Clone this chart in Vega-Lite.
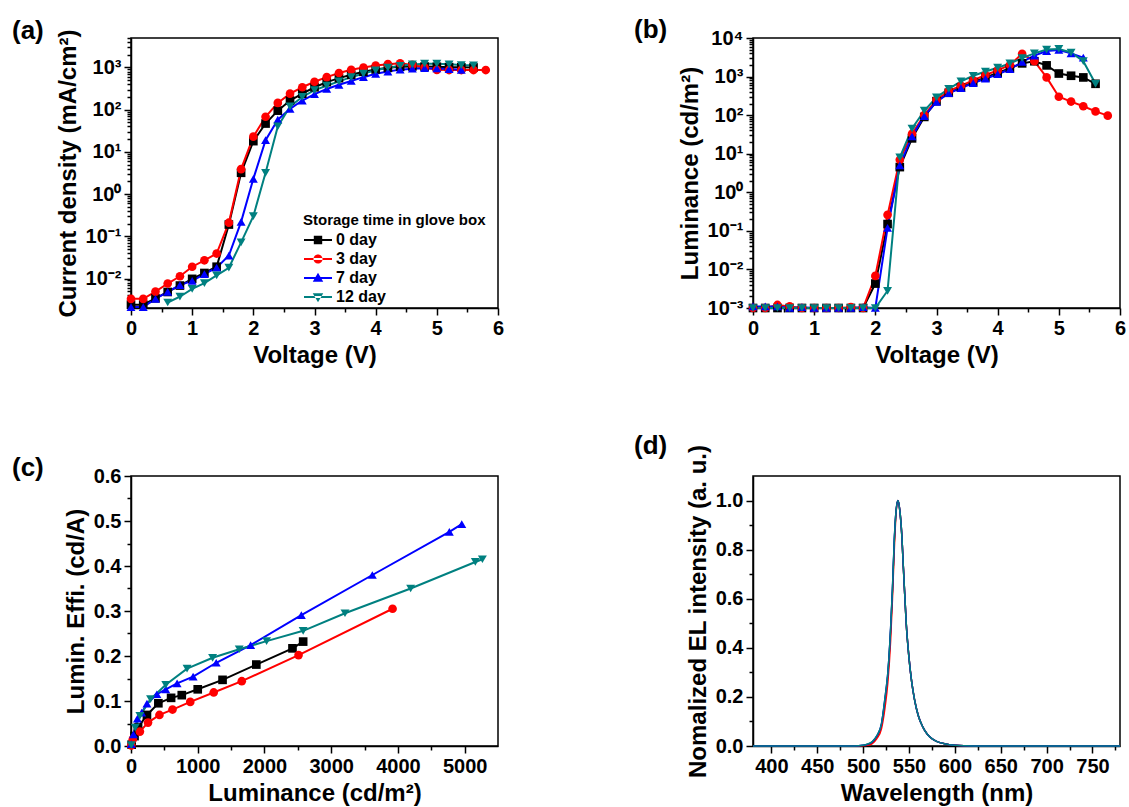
{
  "$schema": "https://vega.github.io/schema/vega-lite/v6.json",
  "padding": {"left": 11, "top": 16, "right": 0, "bottom": 0},
  "bounds": "flush",
  "columns": 2,
  "spacing": {"row": 168, "column": 255},
  "config": {
    "font": "Liberation Sans",
    "background": "white",
    "view": {"stroke": "black", "strokeWidth": 1.5},
    "axis": {
      "grid": false, "domainColor": "black", "domainWidth": 1.5, "tickColor": "black", "tickWidth": 1.5, "tickSize": 7,
      "labelFont": "Liberation Sans", "labelFontWeight": "bold", "labelFontSize": 20, "labelColor": "black", "labelPadding": 3,
      "labelFlush": false, "labelOverlap": false, "labelBound": false,
      "titleFont": "Liberation Sans", "titleFontWeight": "bold", "titleFontSize": 24, "titleColor": "black", "titlePadding": 5
    },
    "title": {"font": "Liberation Sans", "fontSize": 26, "fontWeight": "bold", "color": "black", "anchor": "start", "frame": "group", "orient": "top", "baseline": "bottom", "offset": 0, "dx": -119, "dy": 19},
    "legend": {"titleFont": "Liberation Sans", "titleFontSize": 15, "titleFontWeight": "bold", "titleColor": "black", "titleLimit": 1000, "labelLimit": 1000, "labelFont": "Liberation Sans", "labelFontSize": 16, "labelFontWeight": "bold", "labelColor": "black", "symbolSize": 196, "rowPadding": 3, "titlePadding": 4, "labelOffset": 17, "symbolStrokeWidth": 0}
  },
  "resolve": {"scale": {"color": "independent"}, "legend": {"color": "independent"}},
  "datasets": {
    "jv": [
      {"s": "0 day", "V": 0, "J": 0.0024}, {"s": "0 day", "V": 0.2, "J": 0.0024}, {"s": "0 day", "V": 0.4, "J": 0.0034}, {"s": "0 day", "V": 0.6, "J": 0.0048}, {"s": "0 day", "V": 0.8, "J": 0.0068}, {"s": "0 day", "V": 1.0, "J": 0.0098}, {"s": "0 day", "V": 1.2, "J": 0.0135}, {"s": "0 day", "V": 1.4, "J": 0.019}, {"s": "0 day", "V": 1.6, "J": 0.19}, {"s": "0 day", "V": 1.8, "J": 3.2}, {"s": "0 day", "V": 2.0, "J": 18}, {"s": "0 day", "V": 2.2, "J": 47}, {"s": "0 day", "V": 2.4, "J": 95}, {"s": "0 day", "V": 2.6, "J": 165}, {"s": "0 day", "V": 2.8, "J": 240}, {"s": "0 day", "V": 3.0, "J": 340}, {"s": "0 day", "V": 3.2, "J": 450}, {"s": "0 day", "V": 3.4, "J": 560}, {"s": "0 day", "V": 3.6, "J": 670}, {"s": "0 day", "V": 3.8, "J": 790}, {"s": "0 day", "V": 4.0, "J": 900}, {"s": "0 day", "V": 4.2, "J": 980}, {"s": "0 day", "V": 4.4, "J": 1040}, {"s": "0 day", "V": 4.6, "J": 1060}, {"s": "0 day", "V": 4.8, "J": 1050}, {"s": "0 day", "V": 5.0, "J": 1040}, {"s": "0 day", "V": 5.2, "J": 1020}, {"s": "0 day", "V": 5.4, "J": 1010}, {"s": "0 day", "V": 5.6, "J": 1000},
      {"s": "3 day", "V": 0, "J": 0.0033}, {"s": "3 day", "V": 0.2, "J": 0.0033}, {"s": "3 day", "V": 0.4, "J": 0.0049}, {"s": "3 day", "V": 0.6, "J": 0.0076}, {"s": "3 day", "V": 0.8, "J": 0.0113}, {"s": "3 day", "V": 1.0, "J": 0.019}, {"s": "3 day", "V": 1.2, "J": 0.027}, {"s": "3 day", "V": 1.4, "J": 0.039}, {"s": "3 day", "V": 1.6, "J": 0.21}, {"s": "3 day", "V": 1.8, "J": 3.9}, {"s": "3 day", "V": 2.0, "J": 23}, {"s": "3 day", "V": 2.2, "J": 68}, {"s": "3 day", "V": 2.4, "J": 145}, {"s": "3 day", "V": 2.6, "J": 240}, {"s": "3 day", "V": 2.8, "J": 340}, {"s": "3 day", "V": 3.0, "J": 460}, {"s": "3 day", "V": 3.2, "J": 590}, {"s": "3 day", "V": 3.4, "J": 740}, {"s": "3 day", "V": 3.6, "J": 880}, {"s": "3 day", "V": 3.8, "J": 1000}, {"s": "3 day", "V": 4.0, "J": 1110}, {"s": "3 day", "V": 4.2, "J": 1200}, {"s": "3 day", "V": 4.4, "J": 1260}, {"s": "3 day", "V": 4.6, "J": 1150}, {"s": "3 day", "V": 4.8, "J": 1000}, {"s": "3 day", "V": 5.0, "J": 880}, {"s": "3 day", "V": 5.2, "J": 870}, {"s": "3 day", "V": 5.4, "J": 870}, {"s": "3 day", "V": 5.6, "J": 870}, {"s": "3 day", "V": 5.8, "J": 870},
      {"s": "7 day", "V": 0, "J": 0.0021}, {"s": "7 day", "V": 0.2, "J": 0.0021}, {"s": "7 day", "V": 0.4, "J": 0.0033}, {"s": "7 day", "V": 0.6, "J": 0.0048}, {"s": "7 day", "V": 0.8, "J": 0.007}, {"s": "7 day", "V": 1.0, "J": 0.0088}, {"s": "7 day", "V": 1.2, "J": 0.0127}, {"s": "7 day", "V": 1.4, "J": 0.018}, {"s": "7 day", "V": 1.6, "J": 0.035}, {"s": "7 day", "V": 1.8, "J": 0.22}, {"s": "7 day", "V": 2.0, "J": 2.3}, {"s": "7 day", "V": 2.2, "J": 19}, {"s": "7 day", "V": 2.4, "J": 58}, {"s": "7 day", "V": 2.6, "J": 105}, {"s": "7 day", "V": 2.8, "J": 165}, {"s": "7 day", "V": 3.0, "J": 235}, {"s": "7 day", "V": 3.2, "J": 310}, {"s": "7 day", "V": 3.4, "J": 390}, {"s": "7 day", "V": 3.6, "J": 480}, {"s": "7 day", "V": 3.8, "J": 590}, {"s": "7 day", "V": 4.0, "J": 710}, {"s": "7 day", "V": 4.2, "J": 800}, {"s": "7 day", "V": 4.4, "J": 890}, {"s": "7 day", "V": 4.6, "J": 940}, {"s": "7 day", "V": 4.8, "J": 960}, {"s": "7 day", "V": 5.0, "J": 950}, {"s": "7 day", "V": 5.2, "J": 920}, {"s": "7 day", "V": 5.4, "J": 880},
      {"s": "12 day", "V": 0.6, "J": 0.0027}, {"s": "12 day", "V": 0.8, "J": 0.0037}, {"s": "12 day", "V": 1.0, "J": 0.0057}, {"s": "12 day", "V": 1.2, "J": 0.0078}, {"s": "12 day", "V": 1.4, "J": 0.0118}, {"s": "12 day", "V": 1.6, "J": 0.018}, {"s": "12 day", "V": 1.8, "J": 0.072}, {"s": "12 day", "V": 2.0, "J": 0.3}, {"s": "12 day", "V": 2.2, "J": 3.2}, {"s": "12 day", "V": 2.4, "J": 40}, {"s": "12 day", "V": 2.6, "J": 120}, {"s": "12 day", "V": 2.8, "J": 200}, {"s": "12 day", "V": 3.0, "J": 290}, {"s": "12 day", "V": 3.2, "J": 370}, {"s": "12 day", "V": 3.4, "J": 470}, {"s": "12 day", "V": 3.6, "J": 590}, {"s": "12 day", "V": 3.8, "J": 720}, {"s": "12 day", "V": 4.0, "J": 860}, {"s": "12 day", "V": 4.2, "J": 990}, {"s": "12 day", "V": 4.4, "J": 1100}, {"s": "12 day", "V": 4.6, "J": 1180}, {"s": "12 day", "V": 4.8, "J": 1230}, {"s": "12 day", "V": 5.0, "J": 1230}, {"s": "12 day", "V": 5.2, "J": 1190}, {"s": "12 day", "V": 5.4, "J": 1140}, {"s": "12 day", "V": 5.6, "J": 1130}
    ],
    "lv": [
      {"s": "0 day", "V": 0, "L": 0.001}, {"s": "0 day", "V": 0.2, "L": 0.001}, {"s": "0 day", "V": 0.4, "L": 0.001}, {"s": "0 day", "V": 0.6, "L": 0.001}, {"s": "0 day", "V": 0.8, "L": 0.001}, {"s": "0 day", "V": 1.0, "L": 0.001}, {"s": "0 day", "V": 1.2, "L": 0.001}, {"s": "0 day", "V": 1.4, "L": 0.001}, {"s": "0 day", "V": 1.6, "L": 0.001}, {"s": "0 day", "V": 1.8, "L": 0.001}, {"s": "0 day", "V": 2.0, "L": 0.0043}, {"s": "0 day", "V": 2.2, "L": 0.15}, {"s": "0 day", "V": 2.4, "L": 4.5}, {"s": "0 day", "V": 2.6, "L": 25}, {"s": "0 day", "V": 2.8, "L": 90}, {"s": "0 day", "V": 3.0, "L": 230}, {"s": "0 day", "V": 3.2, "L": 380}, {"s": "0 day", "V": 3.4, "L": 520}, {"s": "0 day", "V": 3.6, "L": 720}, {"s": "0 day", "V": 3.8, "L": 950}, {"s": "0 day", "V": 4.0, "L": 1250}, {"s": "0 day", "V": 4.2, "L": 1650}, {"s": "0 day", "V": 4.4, "L": 2200}, {"s": "0 day", "V": 4.6, "L": 2500}, {"s": "0 day", "V": 4.8, "L": 1950}, {"s": "0 day", "V": 5.0, "L": 1200}, {"s": "0 day", "V": 5.2, "L": 1050}, {"s": "0 day", "V": 5.4, "L": 950}, {"s": "0 day", "V": 5.6, "L": 650},
      {"s": "3 day", "V": 0, "L": 0.001}, {"s": "3 day", "V": 0.2, "L": 0.001}, {"s": "3 day", "V": 0.4, "L": 0.0012}, {"s": "3 day", "V": 0.6, "L": 0.0011}, {"s": "3 day", "V": 0.8, "L": 0.001}, {"s": "3 day", "V": 1.0, "L": 0.001}, {"s": "3 day", "V": 1.2, "L": 0.001}, {"s": "3 day", "V": 1.4, "L": 0.001}, {"s": "3 day", "V": 1.6, "L": 0.00105}, {"s": "3 day", "V": 1.8, "L": 0.001}, {"s": "3 day", "V": 2.0, "L": 0.0068}, {"s": "3 day", "V": 2.2, "L": 0.26}, {"s": "3 day", "V": 2.4, "L": 7}, {"s": "3 day", "V": 2.6, "L": 33}, {"s": "3 day", "V": 2.8, "L": 100}, {"s": "3 day", "V": 3.0, "L": 250}, {"s": "3 day", "V": 3.2, "L": 420}, {"s": "3 day", "V": 3.4, "L": 580}, {"s": "3 day", "V": 3.6, "L": 800}, {"s": "3 day", "V": 3.8, "L": 1100}, {"s": "3 day", "V": 4.0, "L": 1450}, {"s": "3 day", "V": 4.2, "L": 2000}, {"s": "3 day", "V": 4.4, "L": 3900}, {"s": "3 day", "V": 4.6, "L": 2500}, {"s": "3 day", "V": 4.8, "L": 950}, {"s": "3 day", "V": 5.0, "L": 300}, {"s": "3 day", "V": 5.2, "L": 225}, {"s": "3 day", "V": 5.4, "L": 170}, {"s": "3 day", "V": 5.6, "L": 125}, {"s": "3 day", "V": 5.8, "L": 97},
      {"s": "7 day", "V": 0, "L": 0.0011}, {"s": "7 day", "V": 0.2, "L": 0.0011}, {"s": "7 day", "V": 0.4, "L": 0.0011}, {"s": "7 day", "V": 0.6, "L": 0.001}, {"s": "7 day", "V": 0.8, "L": 0.00105}, {"s": "7 day", "V": 1.0, "L": 0.001}, {"s": "7 day", "V": 1.2, "L": 0.001}, {"s": "7 day", "V": 1.4, "L": 0.001}, {"s": "7 day", "V": 1.6, "L": 0.001}, {"s": "7 day", "V": 1.8, "L": 0.00105}, {"s": "7 day", "V": 2.0, "L": 0.001}, {"s": "7 day", "V": 2.2, "L": 0.12}, {"s": "7 day", "V": 2.4, "L": 5}, {"s": "7 day", "V": 2.6, "L": 28}, {"s": "7 day", "V": 2.8, "L": 95}, {"s": "7 day", "V": 3.0, "L": 220}, {"s": "7 day", "V": 3.2, "L": 370}, {"s": "7 day", "V": 3.4, "L": 500}, {"s": "7 day", "V": 3.6, "L": 680}, {"s": "7 day", "V": 3.8, "L": 880}, {"s": "7 day", "V": 4.0, "L": 1150}, {"s": "7 day", "V": 4.2, "L": 1550}, {"s": "7 day", "V": 4.4, "L": 2400}, {"s": "7 day", "V": 4.6, "L": 3500}, {"s": "7 day", "V": 4.8, "L": 4600}, {"s": "7 day", "V": 5.0, "L": 4900}, {"s": "7 day", "V": 5.2, "L": 4000}, {"s": "7 day", "V": 5.4, "L": 3100},
      {"s": "12 day", "V": 0, "L": 0.001}, {"s": "12 day", "V": 0.2, "L": 0.001}, {"s": "12 day", "V": 0.4, "L": 0.001}, {"s": "12 day", "V": 0.6, "L": 0.001}, {"s": "12 day", "V": 0.8, "L": 0.001}, {"s": "12 day", "V": 1.0, "L": 0.001}, {"s": "12 day", "V": 1.2, "L": 0.001}, {"s": "12 day", "V": 1.4, "L": 0.001}, {"s": "12 day", "V": 1.6, "L": 0.001}, {"s": "12 day", "V": 1.8, "L": 0.001}, {"s": "12 day", "V": 2.0, "L": 0.001}, {"s": "12 day", "V": 2.2, "L": 0.0028}, {"s": "12 day", "V": 2.4, "L": 8}, {"s": "12 day", "V": 2.6, "L": 45}, {"s": "12 day", "V": 2.8, "L": 130}, {"s": "12 day", "V": 3.0, "L": 290}, {"s": "12 day", "V": 3.2, "L": 480}, {"s": "12 day", "V": 3.4, "L": 750}, {"s": "12 day", "V": 3.6, "L": 1050}, {"s": "12 day", "V": 3.8, "L": 1350}, {"s": "12 day", "V": 4.0, "L": 1700}, {"s": "12 day", "V": 4.2, "L": 2200}, {"s": "12 day", "V": 4.4, "L": 3000}, {"s": "12 day", "V": 4.6, "L": 4000}, {"s": "12 day", "V": 4.8, "L": 5000}, {"s": "12 day", "V": 5.0, "L": 5200}, {"s": "12 day", "V": 5.2, "L": 4200}, {"s": "12 day", "V": 5.4, "L": 2500}, {"s": "12 day", "V": 5.6, "L": 650}
    ],
    "eff": [
      {"s": "0 day", "L": 10, "E": 0.003}, {"s": "0 day", "L": 53, "E": 0.022}, {"s": "0 day", "L": 106, "E": 0.041}, {"s": "0 day", "L": 239, "E": 0.069}, {"s": "0 day", "L": 410, "E": 0.095}, {"s": "0 day", "L": 601, "E": 0.107}, {"s": "0 day", "L": 761, "E": 0.113}, {"s": "0 day", "L": 1000, "E": 0.126}, {"s": "0 day", "L": 1372, "E": 0.147}, {"s": "0 day", "L": 1878, "E": 0.181}, {"s": "0 day", "L": 2420, "E": 0.217}, {"s": "0 day", "L": 2580, "E": 0.232},
      {"s": "3 day", "L": 5, "E": 0.001}, {"s": "3 day", "L": 27, "E": 0.015}, {"s": "3 day", "L": 133, "E": 0.032}, {"s": "3 day", "L": 255, "E": 0.052}, {"s": "3 day", "L": 426, "E": 0.069}, {"s": "3 day", "L": 622, "E": 0.081}, {"s": "3 day", "L": 888, "E": 0.098}, {"s": "3 day", "L": 1239, "E": 0.119}, {"s": "3 day", "L": 1660, "E": 0.144}, {"s": "3 day", "L": 2511, "E": 0.202}, {"s": "3 day", "L": 3920, "E": 0.305},
      {"s": "7 day", "L": 5, "E": 0.004}, {"s": "7 day", "L": 37, "E": 0.026}, {"s": "7 day", "L": 96, "E": 0.061}, {"s": "7 day", "L": 160, "E": 0.074}, {"s": "7 day", "L": 239, "E": 0.094}, {"s": "7 day", "L": 388, "E": 0.115}, {"s": "7 day", "L": 521, "E": 0.126}, {"s": "7 day", "L": 691, "E": 0.139}, {"s": "7 day", "L": 931, "E": 0.154}, {"s": "7 day", "L": 1277, "E": 0.185}, {"s": "7 day", "L": 1793, "E": 0.224}, {"s": "7 day", "L": 2553, "E": 0.291}, {"s": "7 day", "L": 3617, "E": 0.38}, {"s": "7 day", "L": 4771, "E": 0.476}, {"s": "7 day", "L": 4957, "E": 0.493},
      {"s": "12 day", "L": 5, "E": 0.002}, {"s": "12 day", "L": 64, "E": 0.041}, {"s": "12 day", "L": 133, "E": 0.067}, {"s": "12 day", "L": 293, "E": 0.104}, {"s": "12 day", "L": 521, "E": 0.136}, {"s": "12 day", "L": 840, "E": 0.172}, {"s": "12 day", "L": 1223, "E": 0.196}, {"s": "12 day", "L": 1622, "E": 0.215}, {"s": "12 day", "L": 2032, "E": 0.233}, {"s": "12 day", "L": 2580, "E": 0.256}, {"s": "12 day", "L": 3207, "E": 0.295}, {"s": "12 day", "L": 4191, "E": 0.35}, {"s": "12 day", "L": 5160, "E": 0.409}, {"s": "12 day", "L": 5266, "E": 0.415}
    ],
    "el": [
      {"s": "0 day", "W": 380, "I": 0}, {"s": "0 day", "W": 490, "I": 0}, {"s": "0 day", "W": 500, "I": 0.002}, {"s": "0 day", "W": 505, "I": 0.006}, {"s": "0 day", "W": 510, "I": 0.015}, {"s": "0 day", "W": 515, "I": 0.038}, {"s": "0 day", "W": 520, "I": 0.085}, {"s": "0 day", "W": 524, "I": 0.19}, {"s": "0 day", "W": 527, "I": 0.29}, {"s": "0 day", "W": 530, "I": 0.47}, {"s": "0 day", "W": 532, "I": 0.63}, {"s": "0 day", "W": 534, "I": 0.83}, {"s": "0 day", "W": 536, "I": 0.96}, {"s": "0 day", "W": 538, "I": 1.0}, {"s": "0 day", "W": 540, "I": 0.96}, {"s": "0 day", "W": 542, "I": 0.87}, {"s": "0 day", "W": 544, "I": 0.72}, {"s": "0 day", "W": 547, "I": 0.5}, {"s": "0 day", "W": 550, "I": 0.36}, {"s": "0 day", "W": 553, "I": 0.26}, {"s": "0 day", "W": 556, "I": 0.19}, {"s": "0 day", "W": 560, "I": 0.125}, {"s": "0 day", "W": 565, "I": 0.078}, {"s": "0 day", "W": 570, "I": 0.048}, {"s": "0 day", "W": 575, "I": 0.03}, {"s": "0 day", "W": 580, "I": 0.019}, {"s": "0 day", "W": 590, "I": 0.008}, {"s": "0 day", "W": 600, "I": 0.003}, {"s": "0 day", "W": 610, "I": 0.001}, {"s": "0 day", "W": 630, "I": 0}, {"s": "0 day", "W": 780, "I": 0},
      {"s": "3 day", "W": 380, "I": 0}, {"s": "3 day", "W": 495, "I": 0}, {"s": "3 day", "W": 505, "I": 0.003}, {"s": "3 day", "W": 510, "I": 0.01}, {"s": "3 day", "W": 515, "I": 0.03}, {"s": "3 day", "W": 520, "I": 0.07}, {"s": "3 day", "W": 524, "I": 0.16}, {"s": "3 day", "W": 527, "I": 0.26}, {"s": "3 day", "W": 530, "I": 0.43}, {"s": "3 day", "W": 532, "I": 0.6}, {"s": "3 day", "W": 534, "I": 0.8}, {"s": "3 day", "W": 536, "I": 0.95}, {"s": "3 day", "W": 538, "I": 1.0}, {"s": "3 day", "W": 540, "I": 0.96}, {"s": "3 day", "W": 542, "I": 0.87}, {"s": "3 day", "W": 544, "I": 0.72}, {"s": "3 day", "W": 547, "I": 0.5}, {"s": "3 day", "W": 550, "I": 0.36}, {"s": "3 day", "W": 553, "I": 0.26}, {"s": "3 day", "W": 556, "I": 0.19}, {"s": "3 day", "W": 560, "I": 0.125}, {"s": "3 day", "W": 565, "I": 0.078}, {"s": "3 day", "W": 570, "I": 0.048}, {"s": "3 day", "W": 575, "I": 0.03}, {"s": "3 day", "W": 580, "I": 0.019}, {"s": "3 day", "W": 590, "I": 0.008}, {"s": "3 day", "W": 600, "I": 0.003}, {"s": "3 day", "W": 610, "I": 0.001}, {"s": "3 day", "W": 630, "I": 0}, {"s": "3 day", "W": 780, "I": 0},
      {"s": "7 day", "W": 380, "I": 0}, {"s": "7 day", "W": 490, "I": 0}, {"s": "7 day", "W": 500, "I": 0.003}, {"s": "7 day", "W": 505, "I": 0.007}, {"s": "7 day", "W": 510, "I": 0.017}, {"s": "7 day", "W": 515, "I": 0.041}, {"s": "7 day", "W": 520, "I": 0.09}, {"s": "7 day", "W": 524, "I": 0.2}, {"s": "7 day", "W": 527, "I": 0.3}, {"s": "7 day", "W": 530, "I": 0.48}, {"s": "7 day", "W": 532, "I": 0.64}, {"s": "7 day", "W": 534, "I": 0.84}, {"s": "7 day", "W": 536, "I": 0.96}, {"s": "7 day", "W": 538, "I": 1.0}, {"s": "7 day", "W": 540, "I": 0.96}, {"s": "7 day", "W": 542, "I": 0.87}, {"s": "7 day", "W": 544, "I": 0.72}, {"s": "7 day", "W": 547, "I": 0.5}, {"s": "7 day", "W": 550, "I": 0.36}, {"s": "7 day", "W": 553, "I": 0.26}, {"s": "7 day", "W": 556, "I": 0.19}, {"s": "7 day", "W": 560, "I": 0.125}, {"s": "7 day", "W": 565, "I": 0.078}, {"s": "7 day", "W": 570, "I": 0.048}, {"s": "7 day", "W": 575, "I": 0.03}, {"s": "7 day", "W": 580, "I": 0.019}, {"s": "7 day", "W": 590, "I": 0.008}, {"s": "7 day", "W": 600, "I": 0.003}, {"s": "7 day", "W": 610, "I": 0.001}, {"s": "7 day", "W": 630, "I": 0}, {"s": "7 day", "W": 780, "I": 0},
      {"s": "12 day", "W": 380, "I": 0}, {"s": "12 day", "W": 490, "I": 0}, {"s": "12 day", "W": 500, "I": 0.003}, {"s": "12 day", "W": 505, "I": 0.008}, {"s": "12 day", "W": 510, "I": 0.018}, {"s": "12 day", "W": 515, "I": 0.042}, {"s": "12 day", "W": 520, "I": 0.09}, {"s": "12 day", "W": 524, "I": 0.2}, {"s": "12 day", "W": 527, "I": 0.3}, {"s": "12 day", "W": 530, "I": 0.48}, {"s": "12 day", "W": 532, "I": 0.64}, {"s": "12 day", "W": 534, "I": 0.84}, {"s": "12 day", "W": 536, "I": 0.96}, {"s": "12 day", "W": 538, "I": 1.0}, {"s": "12 day", "W": 540, "I": 0.96}, {"s": "12 day", "W": 542, "I": 0.87}, {"s": "12 day", "W": 544, "I": 0.72}, {"s": "12 day", "W": 547, "I": 0.5}, {"s": "12 day", "W": 550, "I": 0.36}, {"s": "12 day", "W": 553, "I": 0.26}, {"s": "12 day", "W": 556, "I": 0.19}, {"s": "12 day", "W": 560, "I": 0.125}, {"s": "12 day", "W": 565, "I": 0.078}, {"s": "12 day", "W": 570, "I": 0.048}, {"s": "12 day", "W": 575, "I": 0.03}, {"s": "12 day", "W": 580, "I": 0.019}, {"s": "12 day", "W": 590, "I": 0.008}, {"s": "12 day", "W": 600, "I": 0.003}, {"s": "12 day", "W": 610, "I": 0.001}, {"s": "12 day", "W": 630, "I": 0}, {"s": "12 day", "W": 780, "I": 0}
    ]
  },
  "concat": [
    {
      "width": 367, "height": 270,
      "title": {"text": "(a)"},
      "data": {"name": "jv"},
      "encoding": {
        "x": {"field": "V", "type": "quantitative", "scale": {"domain": [0, 6], "nice": false}, "axis": null},
        "y": {"field": "J", "type": "quantitative", "scale": {"type": "log", "domain": [0.002, 5000], "nice": false}, "axis": null},
        "color": {"field": "s", "type": "nominal", "scale": {"domain": ["0 day", "3 day", "7 day", "12 day"], "range": ["#000000", "#ff0000", "#0000ff", "#008080"]}, "legend": null}
      },
      "layer": [
        {"mark": {"type": "line", "strokeWidth": 2},
         "encoding": {
           "x": {"field": "V", "type": "quantitative", "scale": {"domain": [0, 6], "nice": false}, "axis": {"title": "Voltage (V)", "values": [0, 1, 2, 3, 4, 5, 6], "format": "d"}},
           "y": {"field": "J", "type": "quantitative", "scale": {"type": "log", "domain": [0.002, 5000], "nice": false}, "axis": {"title": "Current density (mA/cm²)", "values": [0.01, 0.1, 1, 10, 100, 1000], "labelExpr": "'10' + (round(log(datum.value)/LN10) < 0 ? '⁻' : '') + ['⁰','¹','²','³','⁴'][abs(round(log(datum.value)/LN10))]"}},
           "color": {"field": "s", "type": "nominal", "scale": {"domain": ["0 day", "3 day", "7 day", "12 day"], "range": ["#000000", "#ff0000", "#0000ff", "#008080"]},
             "legend": {"title": "Storage time in glove box", "orient": "none", "legendX": 172, "legendY": 175,
               "encode": {"symbols": {"update": {
                 "shape": {"signal": "datum.value === '0 day' ? 'M-1,-0.15L3,-0.15L3,0.15L-1,0.15ZM0.4,-0.6L1.6,-0.6L1.6,0.6L0.4,0.6Z' : datum.value === '3 day' ? 'M-1,-0.15L3,-0.15L3,0.15L-1,0.15ZM0.35,0A0.65,0.65,0,1,0,1.65,0A0.65,0.65,0,1,0,0.35,0Z' : datum.value === '7 day' ? 'M-1,-0.15L3,-0.15L3,0.15L-1,0.15ZM1,-0.75L1.75,0.55L0.25,0.55Z' : 'M-1,-0.15L3,-0.15L3,0.15L-1,0.15ZM1,0.75L1.75,-0.55L0.25,-0.55Z'"},
                 "fill": {"signal": "datum.value === '0 day' ? '#000000' : datum.value === '3 day' ? '#ff0000' : datum.value === '7 day' ? '#0000ff' : '#008080'"},
                 "stroke": {"value": "transparent"},
                 "strokeWidth": {"value": 0},
                 "opacity": {"value": 1}
               }}}}}
         }},
        {"transform": [{"filter": "datum.s === '0 day'"}], "mark": {"type": "point", "shape": "square", "filled": true, "size": 75, "opacity": 1}},
        {"transform": [{"filter": "datum.s === '3 day'"}], "mark": {"type": "point", "shape": "circle", "filled": true, "size": 75, "opacity": 1}},
        {"transform": [{"filter": "datum.s === '7 day'"}], "mark": {"type": "point", "shape": "triangle-up", "filled": true, "size": 80, "opacity": 1}},
        {"transform": [{"filter": "datum.s === '12 day'"}], "mark": {"type": "point", "shape": "triangle-down", "filled": true, "size": 80, "opacity": 1}},
        {"mark": {"type": "point", "opacity": 0},
         "encoding": {
           "x": {"field": "V", "type": "quantitative", "scale": {"domain": [0, 6], "nice": false}, "axis": {"orient": "bottom", "title": null, "labels": false, "domain": false, "tickSize": 4, "values": [0.5, 1.5, 2.5, 3.5, 4.5, 5.5]}},
           "y": {"field": "J", "type": "quantitative", "scale": {"type": "log", "domain": [0.002, 5000], "nice": false}, "axis": {"orient": "left", "title": null, "labels": false, "domain": false, "tickSize": 4, "values": [0.002, 0.003, 0.004, 0.005, 0.006, 0.007, 0.008, 0.009, 0.02, 0.03, 0.04, 0.05, 0.06, 0.07, 0.08, 0.09, 0.2, 0.3, 0.4, 0.5, 0.6, 0.7, 0.8, 0.9, 2, 3, 4, 5, 6, 7, 8, 9, 20, 30, 40, 50, 60, 70, 80, 90, 200, 300, 400, 500, 600, 700, 800, 900, 2000, 3000, 4000, 5000]}}
         }}
      ],
      "resolve": {"axis": {"x": "independent", "y": "independent"}}
    },
    {
      "width": 367, "height": 270,
      "title": {"text": "(b)"},
      "data": {"name": "lv"},
      "encoding": {
        "x": {"field": "V", "type": "quantitative", "scale": {"domain": [0, 6], "nice": false}, "axis": null},
        "y": {"field": "L", "type": "quantitative", "scale": {"type": "log", "domain": [0.001, 10000], "nice": false}, "axis": null},
        "color": {"field": "s", "type": "nominal", "scale": {"domain": ["0 day", "3 day", "7 day", "12 day"], "range": ["#000000", "#ff0000", "#0000ff", "#008080"]}, "legend": null}
      },
      "layer": [
        {"mark": {"type": "line", "strokeWidth": 2},
         "encoding": {
           "x": {"field": "V", "type": "quantitative", "scale": {"domain": [0, 6], "nice": false}, "axis": {"title": "Voltage (V)", "values": [0, 1, 2, 3, 4, 5, 6], "format": "d"}},
           "y": {"field": "L", "type": "quantitative", "scale": {"type": "log", "domain": [0.001, 10000], "nice": false}, "axis": {"title": "Luminance (cd/m²)", "values": [0.001, 0.01, 0.1, 1, 10, 100, 1000, 10000], "labelExpr": "'10' + (round(log(datum.value)/LN10) < 0 ? '⁻' : '') + ['⁰','¹','²','³','⁴'][abs(round(log(datum.value)/LN10))]"}}
         }},
        {"transform": [{"filter": "datum.s === '0 day'"}], "mark": {"type": "point", "shape": "square", "filled": true, "size": 75, "opacity": 1}},
        {"transform": [{"filter": "datum.s === '3 day'"}], "mark": {"type": "point", "shape": "circle", "filled": true, "size": 75, "opacity": 1}},
        {"transform": [{"filter": "datum.s === '7 day'"}], "mark": {"type": "point", "shape": "triangle-up", "filled": true, "size": 80, "opacity": 1}},
        {"transform": [{"filter": "datum.s === '12 day'"}], "mark": {"type": "point", "shape": "triangle-down", "filled": true, "size": 80, "opacity": 1}},
        {"mark": {"type": "point", "opacity": 0},
         "encoding": {
           "x": {"field": "V", "type": "quantitative", "scale": {"domain": [0, 6], "nice": false}, "axis": {"orient": "bottom", "title": null, "labels": false, "domain": false, "tickSize": 4, "values": [0.5, 1.5, 2.5, 3.5, 4.5, 5.5]}},
           "y": {"field": "L", "type": "quantitative", "scale": {"type": "log", "domain": [0.001, 10000], "nice": false}, "axis": {"orient": "left", "title": null, "labels": false, "domain": false, "tickSize": 4, "values": [0.002, 0.003, 0.004, 0.005, 0.006, 0.007, 0.008, 0.009, 0.02, 0.03, 0.04, 0.05, 0.06, 0.07, 0.08, 0.09, 0.2, 0.3, 0.4, 0.5, 0.6, 0.7, 0.8, 0.9, 2, 3, 4, 5, 6, 7, 8, 9, 20, 30, 40, 50, 60, 70, 80, 90, 200, 300, 400, 500, 600, 700, 800, 900, 2000, 3000, 4000, 5000, 6000, 7000, 8000, 9000]}}
         }}
      ],
      "resolve": {"axis": {"x": "independent", "y": "independent"}}
    },
    {
      "width": 367, "height": 270,
      "title": {"text": "(c)"},
      "data": {"name": "eff"},
      "encoding": {
        "x": {"field": "L", "type": "quantitative", "scale": {"domain": [0, 5500], "nice": false}, "axis": null},
        "y": {"field": "E", "type": "quantitative", "scale": {"domain": [0, 0.6], "nice": false}, "axis": null},
        "color": {"field": "s", "type": "nominal", "scale": {"domain": ["0 day", "3 day", "7 day", "12 day"], "range": ["#000000", "#ff0000", "#0000ff", "#008080"]}, "legend": null}
      },
      "layer": [
        {"mark": {"type": "line", "strokeWidth": 2},
         "encoding": {
           "x": {"field": "L", "type": "quantitative", "scale": {"domain": [0, 5500], "nice": false}, "axis": {"title": "Luminance (cd/m²)", "values": [0, 1000, 2000, 3000, 4000, 5000], "format": "d"}},
           "y": {"field": "E", "type": "quantitative", "scale": {"domain": [0, 0.6], "nice": false}, "axis": {"title": "Lumin. Effi. (cd/A)", "values": [0, 0.1, 0.2, 0.3, 0.4, 0.5, 0.6], "format": ".1f"}}
         }},
        {"transform": [{"filter": "datum.s === '0 day'"}], "mark": {"type": "point", "shape": "square", "filled": true, "size": 75, "opacity": 1}},
        {"transform": [{"filter": "datum.s === '3 day'"}], "mark": {"type": "point", "shape": "circle", "filled": true, "size": 75, "opacity": 1}},
        {"transform": [{"filter": "datum.s === '7 day'"}], "mark": {"type": "point", "shape": "triangle-up", "filled": true, "size": 80, "opacity": 1}},
        {"transform": [{"filter": "datum.s === '12 day'"}], "mark": {"type": "point", "shape": "triangle-down", "filled": true, "size": 80, "opacity": 1}},
        {"mark": {"type": "point", "opacity": 0},
         "encoding": {
           "x": {"field": "L", "type": "quantitative", "scale": {"domain": [0, 5500], "nice": false}, "axis": {"orient": "bottom", "title": null, "labels": false, "domain": false, "tickSize": 4, "values": [500, 1500, 2500, 3500, 4500]}},
           "y": {"field": "E", "type": "quantitative", "scale": {"domain": [0, 0.6], "nice": false}, "axis": {"orient": "left", "title": null, "labels": false, "domain": false, "tickSize": 4, "values": [0.05, 0.15, 0.25, 0.35, 0.45, 0.55]}}
         }}
      ],
      "resolve": {"axis": {"x": "independent", "y": "independent"}}
    },
    {
      "width": 367, "height": 270,
      "title": {"text": "(d)"},
      "data": {"name": "el"},
      "encoding": {
        "x": {"field": "W", "type": "quantitative", "scale": {"domain": [380, 780], "nice": false}, "axis": null},
        "y": {"field": "I", "type": "quantitative", "scale": {"domain": [0, 1.1], "nice": false}, "axis": null},
        "color": {"field": "s", "type": "nominal", "scale": {"domain": ["0 day", "3 day", "7 day", "12 day"], "range": ["#000000", "#ff0000", "#0000ff", "#008080"]}, "legend": null}
      },
      "layer": [
        {"mark": {"type": "line", "strokeWidth": 1.5, "interpolate": "monotone"},
         "encoding": {
           "x": {"field": "W", "type": "quantitative", "scale": {"domain": [380, 780], "nice": false}, "axis": {"title": "Wavelength (nm)", "values": [400, 450, 500, 550, 600, 650, 700, 750], "format": "d"}},
           "y": {"field": "I", "type": "quantitative", "scale": {"domain": [0, 1.1], "nice": false}, "axis": {"title": "Nomalized EL intensity (a. u.)", "values": [0, 0.2, 0.4, 0.6, 0.8, 1.0], "format": ".1f"}}
         }},
        {"mark": {"type": "point", "opacity": 0},
         "encoding": {
           "x": {"field": "W", "type": "quantitative", "scale": {"domain": [380, 780], "nice": false}, "axis": {"orient": "bottom", "title": null, "labels": false, "domain": false, "tickSize": 4, "values": [425, 475, 525, 575, 625, 675, 725, 775]}},
           "y": {"field": "I", "type": "quantitative", "scale": {"domain": [0, 1.1], "nice": false}, "axis": {"orient": "left", "title": null, "labels": false, "domain": false, "tickSize": 4, "values": [0.1, 0.3, 0.5, 0.7, 0.9]}}
         }}
      ],
      "resolve": {"axis": {"x": "independent", "y": "independent"}}
    }
  ]
}
